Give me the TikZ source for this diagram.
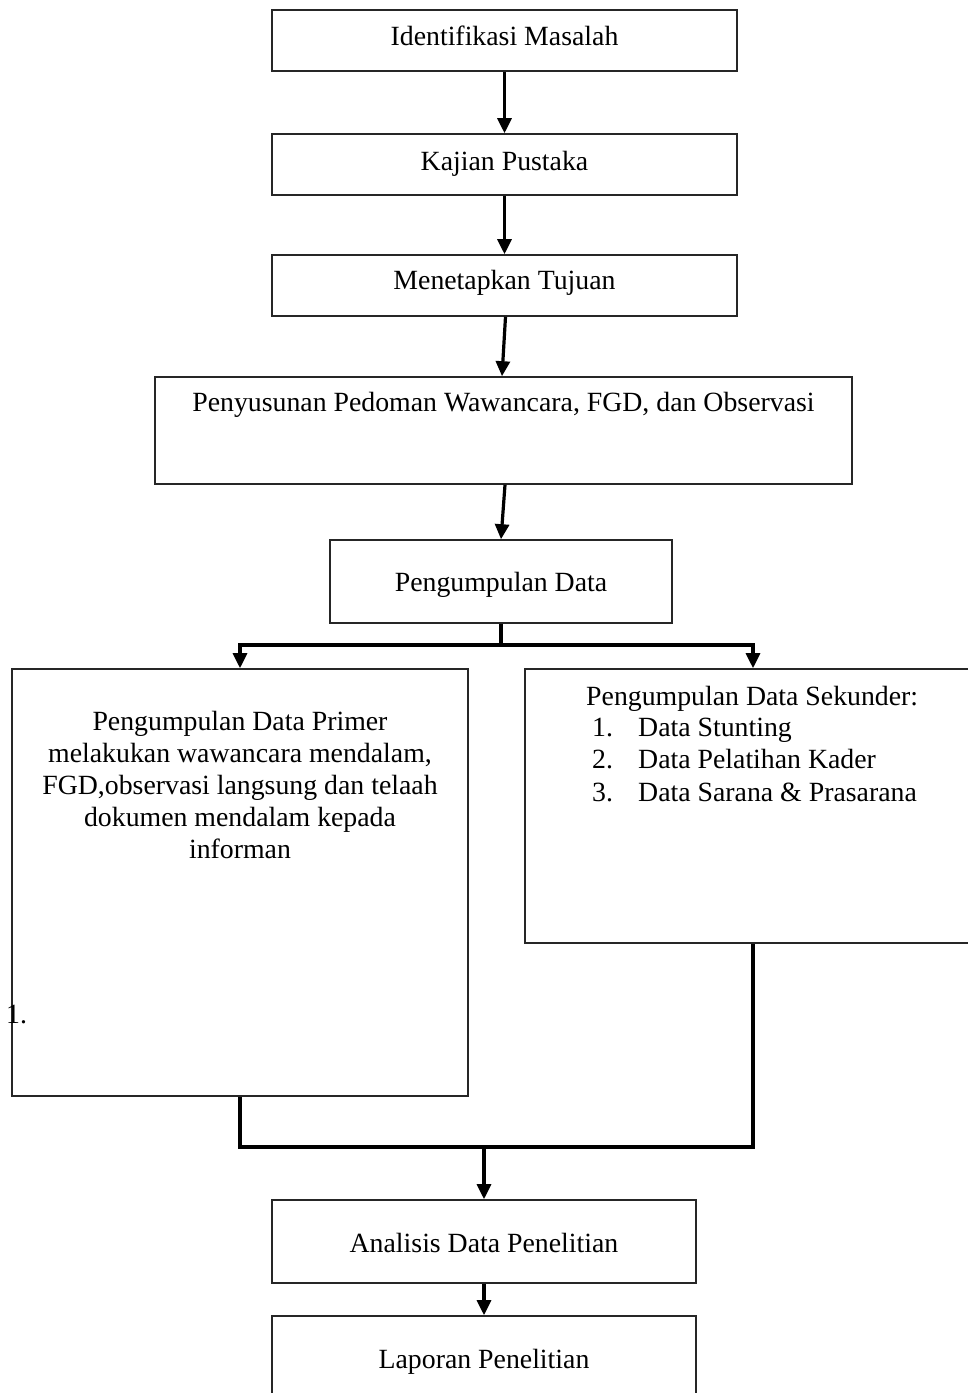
\documentclass[tikz,border=0pt]{standalone}
\usepackage{fontspec}
\setmainfont{Liberation Serif}
\usetikzlibrary{arrows.meta}
\begin{document}
\begin{tikzpicture}[x=1pt,y=-1pt,
  box/.style={draw=black!85, line width=1.6pt, inner sep=0pt, fill=none},
  txt/.style={inner sep=0pt, font=\fontsize{27.8}{32}\selectfont},
  conn/.style={line width=3.2pt, black},
  arr/.style={conn, -{Triangle[width=14pt,length=15pt]}}]
\useasboundingbox (0,0) rectangle (968,1393);
% boxes
\node[box, minimum width=465pt, minimum height=61pt] (b1) at (504.5,40.5) {};
\node[box, minimum width=465pt, minimum height=61pt] (b2) at (504.5,164.5) {};
\node[box, minimum width=465pt, minimum height=61pt] (b3) at (504.5,285.5) {};
\node[box, minimum width=697pt, minimum height=107pt] (b4) at (503.5,430.5) {};
\node[box, minimum width=342pt, minimum height=83pt] (b5) at (501,581.5) {};
\node[box, minimum width=456pt, minimum height=427pt] (L) at (240,882.5) {};
\node[box, minimum width=456pt, minimum height=274pt] (R) at (753,806) {};
\node[box, minimum width=424pt, minimum height=83pt] (A) at (484,1241.5) {};
\node[box, minimum width=424pt, minimum height=79pt] (P) at (484,1355.5) {};
% texts
\node[txt, anchor=base] (t1) at (504.5,45) {Identifikasi Masalah};
\node[txt, anchor=base] (t2) at (504.5,170) {Kajian Pustaka};
\node[txt, anchor=base] (t3) at (504.5,289) {Menetapkan Tujuan};
\node[txt, anchor=base] (t4) at (503.5,411.5) {Penyusunan Pedoman Wawancara, FGD, dan Observasi};
\node[txt, anchor=base] (t5) at (501,591) {Pengumpulan Data};
\node[txt, anchor=base] (tL1) at (240,730) {Pengumpulan Data Primer};
\node[txt, anchor=base] (tL2) at (240,762) {melakukan wawancara mendalam,};
\node[txt, anchor=base] (tL3) at (240,794) {FGD,observasi langsung dan telaah};
\node[txt, anchor=base] (tL4) at (240,826) {dokumen mendalam kepada};
\node[txt, anchor=base] (tL5) at (240,858) {informan};
\node[txt, anchor=base west] (tL6) at (6,1023) {1.};
\node[txt, anchor=base west] (tR0) at (586,705) {Pengumpulan Data Sekunder:};
\node[txt, anchor=base west] (n1) at (592,736) {1.};
\node[txt, anchor=base west] (i1) at (638,736) {Data Stunting};
\node[txt, anchor=base west] (n2) at (592,768.5) {2.};
\node[txt, anchor=base west] (i2) at (638,768.5) {Data Pelatihan Kader};
\node[txt, anchor=base west] (n3) at (592,801) {3.};
\node[txt, anchor=base west] (i3) at (638,801) {Data Sarana \& Prasarana};
\node[txt, anchor=base] (tA) at (484,1252) {Analisis Data Penelitian};
\node[txt, anchor=base] (tP) at (484,1368) {Laporan Penelitian};
% connectors
\draw[arr] (b1.south) -- (b2.north);
\draw[arr] (b2.south) -- (b3.north);
\draw[arr] ([xshift=1pt]b3.south) -- ([xshift=-1.5pt]b4.north);
\draw[arr] ([xshift=1.5pt]b4.south) -- (b5.north);
\coordinate (s) at (501,645);
\draw[conn] (b5.south) -- (s);
\draw[arr] (s) -| (L.north);
\draw[arr] (s) -| (R.north);
\coordinate (j) at (484,1147);
\draw[conn] (L.south) |- (j) -| (R.south);
\draw[arr] (j) -- (A.north);
\draw[arr] (A.south) -- (P.north);
\end{tikzpicture}
\end{document}
